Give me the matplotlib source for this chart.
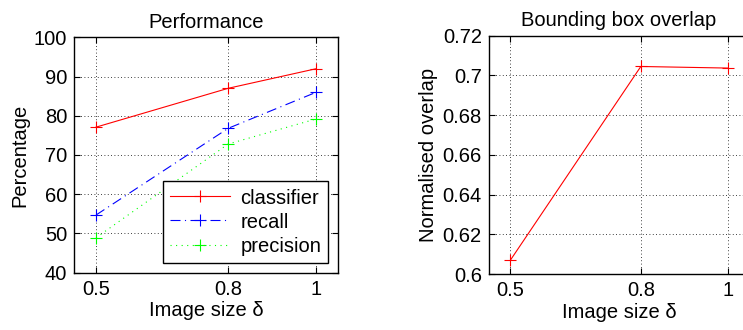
import matplotlib
matplotlib.use("Agg")
import matplotlib.pyplot as plt

plt.rcParams['font.family'] = ['Liberation Sans', 'DejaVu Sans']

x_vals = [0.5, 0.8, 1.0]
x_ticklabels = ['0.5', '0.8', '1']
classifier = [77.1, 87.0, 92.0]
recall = [54.7, 76.8, 86.0]
precision = [48.9, 72.8, 79.2]
overlap = [0.607, 0.7045, 0.7037]

fs = 14.5
fig = plt.figure(figsize=(7.43, 3.3), dpi=100)
W, H = 743, 330

def axpos(l, t, r, b):
    return [l / W, 1 - b / H, (r - l) / W, (b - t) / H]

ax1 = fig.add_axes(axpos(74, 37.3, 338.3, 272.7))
ax2 = fig.add_axes(axpos(488.7, 35.7, 749.5, 274))

lw = 0.8
ms = 9
ax1.plot(x_vals, classifier, color='#ff0000', linestyle='-', marker='+', lw=lw, ms=ms, mew=0.8, label='classifier')
ax1.plot(x_vals, recall, color='#0000ff', linestyle=(0, (9, 4, 1, 4)), marker='+', lw=lw, ms=ms, mew=0.8, label='recall')
ax1.plot(x_vals, precision, color='#00ff00', linestyle=(0, (1, 4)), marker='+', lw=lw, ms=ms, mew=0.8, label='precision')
ax1.set_xlim(0.45, 1.05)
ax1.set_ylim(40, 100)
ax1.set_yticks([40, 50, 60, 70, 80, 90, 100])
ax1.set_xticks(x_vals)
ax1.set_xticklabels(x_ticklabels)
ax1.set_title('Performance', fontsize=fs, pad=7)
ax1.set_ylabel('Percentage', fontsize=fs, labelpad=3)
ax1.set_xlabel('Image size δ', fontsize=fs, labelpad=2)
leg = ax1.legend(loc='lower right', fontsize=fs, frameon=True, fancybox=False,
                 edgecolor='black', framealpha=1, borderaxespad=0.5,
                 handlelength=3.0, handletextpad=0.5, labelspacing=0.25, borderpad=0.35)
leg.get_frame().set_linewidth(1.0)

ax2.plot(x_vals, overlap, color='#ff0000', linestyle='-', marker='+', lw=lw, ms=ms, mew=0.8)
ax2.set_xlim(0.45, 1.05)
ax2.set_ylim(0.6, 0.72)
ax2.set_yticks([0.6, 0.62, 0.64, 0.66, 0.68, 0.7, 0.72])
ax2.set_yticklabels(['0.6', '0.62', '0.64', '0.66', '0.68', '0.7', '0.72'])
ax2.set_xticks(x_vals)
ax2.set_xticklabels(x_ticklabels)
ax2.set_title('Bounding box overlap', fontsize=fs, pad=7)
ax2.set_ylabel('Normalised overlap', fontsize=fs, labelpad=3)
ax2.set_xlabel('Image size δ', fontsize=fs, labelpad=2)

for ax in (ax1, ax2):
    ax.grid(True, color='black', linestyle=(0, (1, 3)), linewidth=0.6)
    ax.tick_params(labelsize=fs, direction='in', length=4, width=0.8, top=True, right=True, pad=5)
    for s in ax.spines.values():
        s.set_linewidth(1.0)

fig.savefig('out.png', dpi=100)
